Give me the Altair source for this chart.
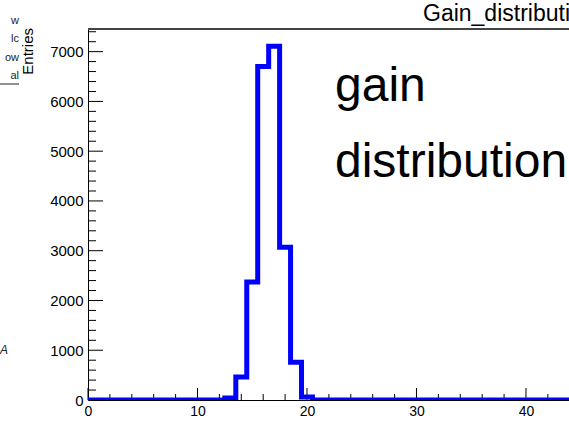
import altair as alt
import pandas as pd

# ---- data ----
bin_centers = list(range(0, 45))
counts = [0, 0, 0, 0, 0, 0, 0, 0, 0, 0,
          0, 0, 0, 40, 460, 2370, 6700, 7110, 3070, 760,
          60, 0, 0, 0, 0, 0, 0, 0, 0, 0,
          0, 0, 0, 0, 0, 0, 0, 0, 0, 0,
          0, 0, 0, 0, 0]

x_major_ticks = [0, 10, 20, 30, 40]
x_minor_ticks = [2, 4, 6, 8, 12, 14, 16, 18, 22, 24, 26, 28, 32, 34, 36, 38, 42]
y_major_ticks = [0, 1000, 2000, 3000, 4000, 5000, 6000, 7000]
y_minor_ticks = [v for v in range(200, 7500, 200) if v % 1000 != 0]

hist_title = ["Gain_distribution"]
y_title = ["Entries"]
annotation_lines = ["gain", "distribution"]
left_fragments = ["w", "lc", "ow", "al"]
left_fragment_low = ["A"]

X_DOMAIN = [0, 43.93]
Y_DOMAIN = [0, 7455]
W, H = 481, 371
FONT = "Liberation Sans"

xs = alt.Scale(domain=X_DOMAIN, nice=False, zero=False)
ys = alt.Scale(domain=Y_DOMAIN, nice=False)

x_axis = alt.Axis(
    values=x_major_ticks, tickSize=0, labelFontSize=14, labelFont=FONT,
    labelColor="black", labelPadding=4, domainColor="black", domainWidth=1,
    grid=False, title=None, labelFlush=False)
y_axis = alt.Axis(
    values=y_major_ticks, tickSize=0, labelFontSize=15, labelFont=FONT,
    labelColor="black", labelPadding=5, domainColor="black", domainWidth=1,
    grid=False, title=None, format="d")

hist_df = pd.DataFrame({"x": bin_centers, "n": counts})

ymaj = alt.Chart(pd.DataFrame({"v": y_major_ticks})).mark_rule(color="black", strokeWidth=1).encode(
    y=alt.Y("v:Q", scale=ys, axis=None), x=alt.value(0), x2=alt.value(15))
ymin = alt.Chart(pd.DataFrame({"v": y_minor_ticks})).mark_rule(color="black", strokeWidth=1).encode(
    y=alt.Y("v:Q", scale=ys, axis=None), x=alt.value(0), x2=alt.value(8))
xmaj = alt.Chart(pd.DataFrame({"v": x_major_ticks})).mark_rule(color="black", strokeWidth=1).encode(
    x=alt.X("v:Q", scale=xs, axis=x_axis), y=alt.value(H), y2=alt.value(H - 12))
xmin = alt.Chart(pd.DataFrame({"v": x_minor_ticks})).mark_rule(color="black", strokeWidth=1).encode(
    x=alt.X("v:Q", scale=xs, axis=x_axis), y=alt.value(H), y2=alt.value(H - 6))

hist = alt.Chart(hist_df).mark_line(
    interpolate="step", color="#0000ff", strokeWidth=5, clip=True,
    strokeJoin="miter", strokeCap="butt"
).encode(
    x=alt.X("x:Q", scale=xs, axis=x_axis),
    y=alt.Y("n:Q", scale=ys, axis=y_axis),
)

top_frame = alt.Chart(pd.DataFrame({"a": [0]})).mark_rule(color="#444444", strokeWidth=2).encode(
    x=alt.value(0), x2=alt.value(W), y=alt.value(0))

title_txt = alt.Chart(pd.DataFrame({"t": hist_title})).mark_text(
    font=FONT, fontSize=23, align="left", baseline="alphabetic", color="black", clip=False
).encode(text="t:N", x=alt.value(423 - 88), y=alt.value(21 - 29))

ytitle_txt = alt.Chart(pd.DataFrame({"t": y_title})).mark_text(
    font=FONT, fontSize=15, align="right", baseline="middle", angle=270, color="black"
).encode(text="t:N", x=alt.value(28 - 88), y=alt.value(-1))

ann1 = alt.Chart(pd.DataFrame({"t": [annotation_lines[0]]})).mark_text(
    font=FONT, fontSize=48, align="left", baseline="alphabetic", color="black"
).encode(text="t:N", x=alt.value(335 - 88), y=alt.value(101 - 29))
ann2 = alt.Chart(pd.DataFrame({"t": [annotation_lines[1]]})).mark_text(
    font=FONT, fontSize=48, align="left", baseline="alphabetic", color="black"
).encode(text="t:N", x=alt.value(335 - 88), y=alt.value(177 - 29))

frag_df = pd.DataFrame({"t": left_fragments, "k": [0, 1, 2, 3]})
frag = alt.Chart(frag_df).mark_text(
    font=FONT, fontSize=11, align="right", baseline="middle", color="#222222"
).encode(text="t:N", x=alt.value(19 - 88),
         y=alt.Y("k:Q", scale=alt.Scale(domain=[0, 3], range=[21 - 29, 76 - 29]), axis=None))

frag_line = alt.Chart(pd.DataFrame({"a": [0]})).mark_rule(color="#222222", strokeWidth=1).encode(
    x=alt.value(0 - 88), x2=alt.value(19 - 88), y=alt.value(84 - 29))

frag_low = alt.Chart(pd.DataFrame({"t": left_fragment_low})).mark_text(
    font=FONT, fontSize=12, fontStyle="italic", align="left", baseline="middle", color="#222222"
).encode(text="t:N", x=alt.value(0 - 88), y=alt.value(350 - 29))

chart = alt.layer(
    ymin, ymaj, xmin, xmaj, top_frame, hist, title_txt, ytitle_txt, ann1, ann2,
    frag, frag_line, frag_low
).resolve_scale(y="independent").properties(
    width=W, height=H,
    padding={"left": 88, "top": 29, "right": 0, "bottom": 46},
    autosize=alt.AutoSizeParams(type="none"),
    background="white",
).configure_view(stroke=None)

chart.save("out.html", embed_options={"renderer": "svg", "actions": False})
